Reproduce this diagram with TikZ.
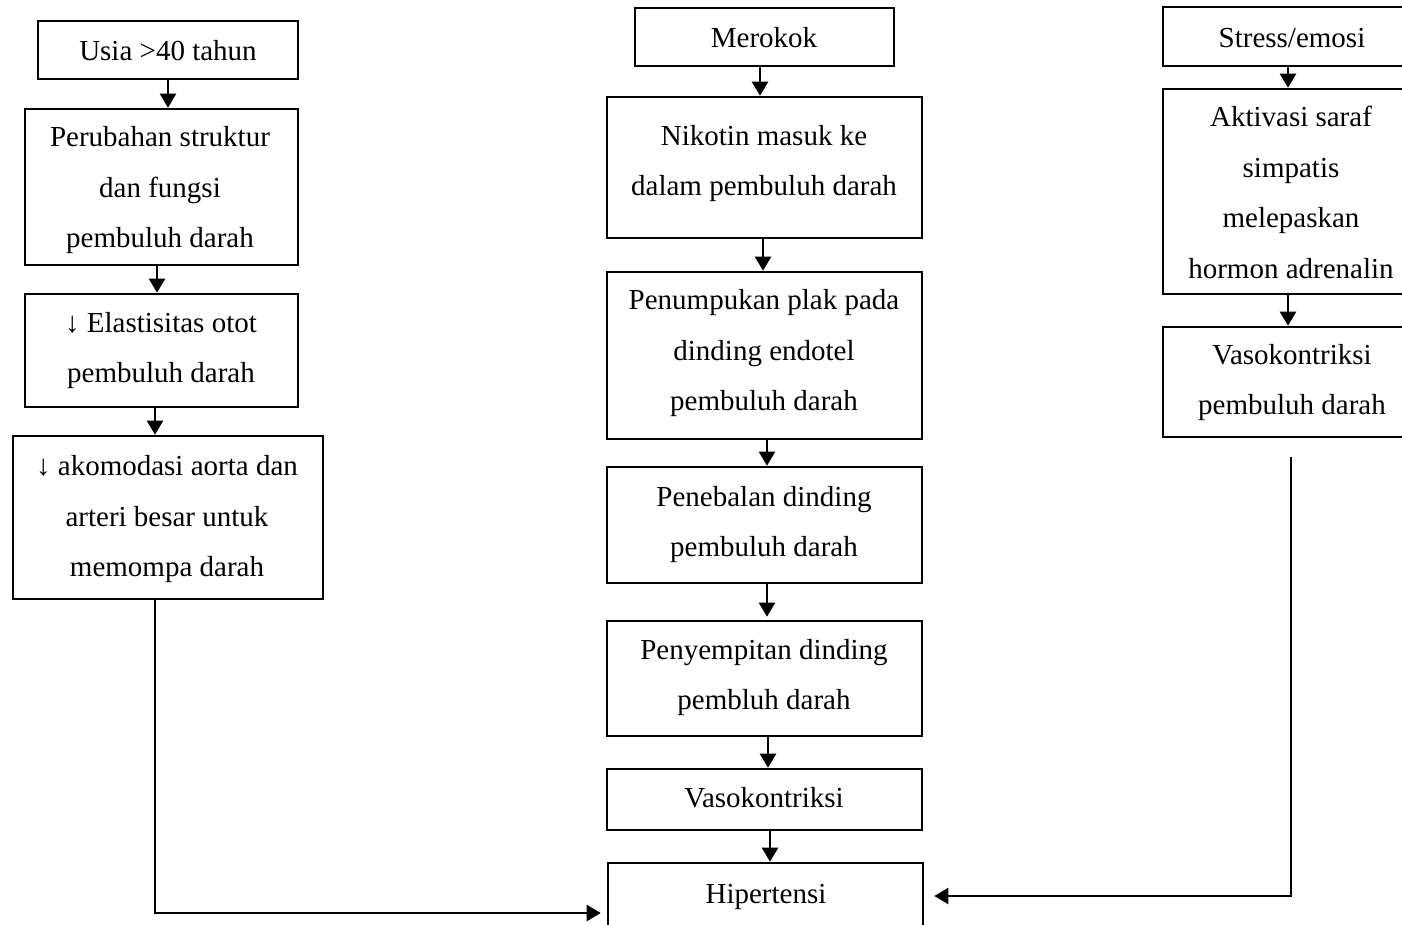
\documentclass[tikz,border=0pt]{standalone}
\usepackage{fontspec}
\setmainfont{Liberation Serif}
\usetikzlibrary{arrows.meta,calc}
% strut giving every line the same ascender/descender room
\newcommand\ls{\rule[-0.22em]{0pt}{0.9em}}
\begin{document}
\begin{tikzpicture}[x=1pt,y=-1pt,
  frame/.style={draw, line width=2.6pt, inner sep=0pt},
  txt/.style={align=center, inner sep=0pt, yshift=-3.5pt,
    font=\fontsize{29}{50.5}\selectfont,
    execute at begin node=\ls, execute at end node=\ls},
  flow/.style={line width=2.2pt, -{Triangle[length=14pt,width=16pt]}},
  thinline/.style={line width=1.4pt},
]
\useasboundingbox (0,0) rectangle (1402,924);
\clip (0,0) rectangle (1402,924);

% ---- left column: age ----
\node[frame, minimum width=260pt, minimum height=58pt]  (usia)  at (168,50)    {};
\node[frame, minimum width=273pt, minimum height=156pt] (perub) at (161.5,187) {};
\node[frame, minimum width=273pt, minimum height=113pt] (elast) at (161.5,350.5) {};
\node[frame, minimum width=310pt, minimum height=163pt] (akom)  at (168,517.5) {};

\node[txt] (usia-t)  at (168,50)  {Usia >40 tahun};
\node[txt] (perub-t) at (160,187) {Perubahan struktur\\dan fungsi\\pembuluh darah};
\node[txt] (elast-t) at (161,347) {↓ Elastisitas otot\\pembuluh darah};
\node[txt] (akom-t)  at (167,516) {↓ akomodasi aorta dan\\arteri besar untuk\\memompa darah};

% ---- middle column: smoking ----
\node[frame, minimum width=259pt, minimum height=58pt]  (rokok) at (764.5,37)    {};
\node[frame, minimum width=315pt, minimum height=141pt] (nikot) at (764.5,167.5) {};
\node[frame, minimum width=315pt, minimum height=167pt] (plak)  at (764.5,355.5) {};
\node[frame, minimum width=315pt, minimum height=116pt] (tebal) at (764.5,525)   {};
\node[frame, minimum width=315pt, minimum height=115pt] (sempit) at (764.5,678.5) {};
\node[frame, minimum width=315pt, minimum height=61pt]  (vaso)  at (764.5,799.5) {};
\node[frame, minimum width=315pt, minimum height=90pt]  (hiper) at (765.5,908)   {};

\node[txt] (rokok-t)  at (764,37)  {Merokok};
\node[txt] (nikot-t)  at (764,160) {Nikotin masuk ke\\dalam pembuluh darah};
\node[txt] (plak-t)   at (764,350) {Penumpukan plak pada\\dinding endotel\\pembuluh darah};
\node[txt] (tebal-t)  at (764,521) {Penebalan dinding\\pembuluh darah};
\node[txt] (sempit-t) at (764,674) {Penyempitan dinding\\pembluh darah};
\node[txt] (vaso-t)   at (764,797) {Vasokontriksi};
\node[txt] (hiper-t)  at (766,893) {Hipertensi};

% ---- right column: stress ----
\node[frame, minimum width=254pt, minimum height=59pt]  (stres) at (1290,36.5)  {};
\node[frame, minimum width=254pt, minimum height=205pt] (aktiv) at (1290,191.5) {};
\node[frame, minimum width=254pt, minimum height=110pt] (vasoR) at (1290,382)   {};

\node[txt] (stres-t) at (1292,37)  {Stress/emosi};
\node[txt] (aktiv-t) at (1291,192) {Aktivasi saraf\\simpatis\\melepaskan\\hormon adrenalin};
\node[txt] (vasoR-t) at (1292,379) {Vasokontriksi\\pembuluh darah};

% ---- vertical arrow positions ----
\coordinate (xa) at (168,0);
\coordinate (xb) at (157,0);
\coordinate (xc) at (155,0);
\coordinate (xm1) at (760,0);
\coordinate (xm2) at (763,0);
\coordinate (xm3) at (767,0);
\coordinate (xm4) at (768,0);
\coordinate (xm5) at (770,0);
\coordinate (xr) at (1288,0);

\draw[flow] (usia.south -| xa) -- (perub.north -| xa);
\draw[flow] (perub.south -| xb) -- (elast.north -| xb);
\draw[flow] (elast.south -| xc) -- (akom.north -| xc);

\draw[flow] (rokok.south -| xm1) -- (nikot.north -| xm1);
\draw[flow] (nikot.south -| xm2) -- (plak.north -| xm2);
\draw[flow] (plak.south -| xm3) -- (tebal.north -| xm3);
\draw[flow] (tebal.south -| xm3) -- ($(sempit.north -| xm3)+(0,-3)$);
\draw[flow] (sempit.south -| xm4) -- (vaso.north -| xm4);
\draw[flow] (vaso.south -| xm5) -- (hiper.north -| xm5);

\draw[flow] (stres.south -| xr) -- (aktiv.north -| xr);
\draw[flow] (aktiv.south -| xr) -- (vasoR.north -| xr);

% ---- long connectors into the result ----
\coordinate (yl) at (0,913);
\coordinate (yr) at (0,896);
\coordinate (lbend) at (155,913);
\coordinate (rtop) at (1291,457);
\coordinate (rbend) at (1291,896);

\draw[thinline] (akom.south -| lbend) -- (lbend);
\draw[flow] ([xshift=-1pt]lbend) -- ($(hiper.west |- yl)+(-6,0)$);

\draw[thinline] (rtop) -- (rbend);
\draw[flow] ([xshift=0.7pt]rbend) -- ($(hiper.east |- yr)+(10,0)$);
\end{tikzpicture}
\end{document}
